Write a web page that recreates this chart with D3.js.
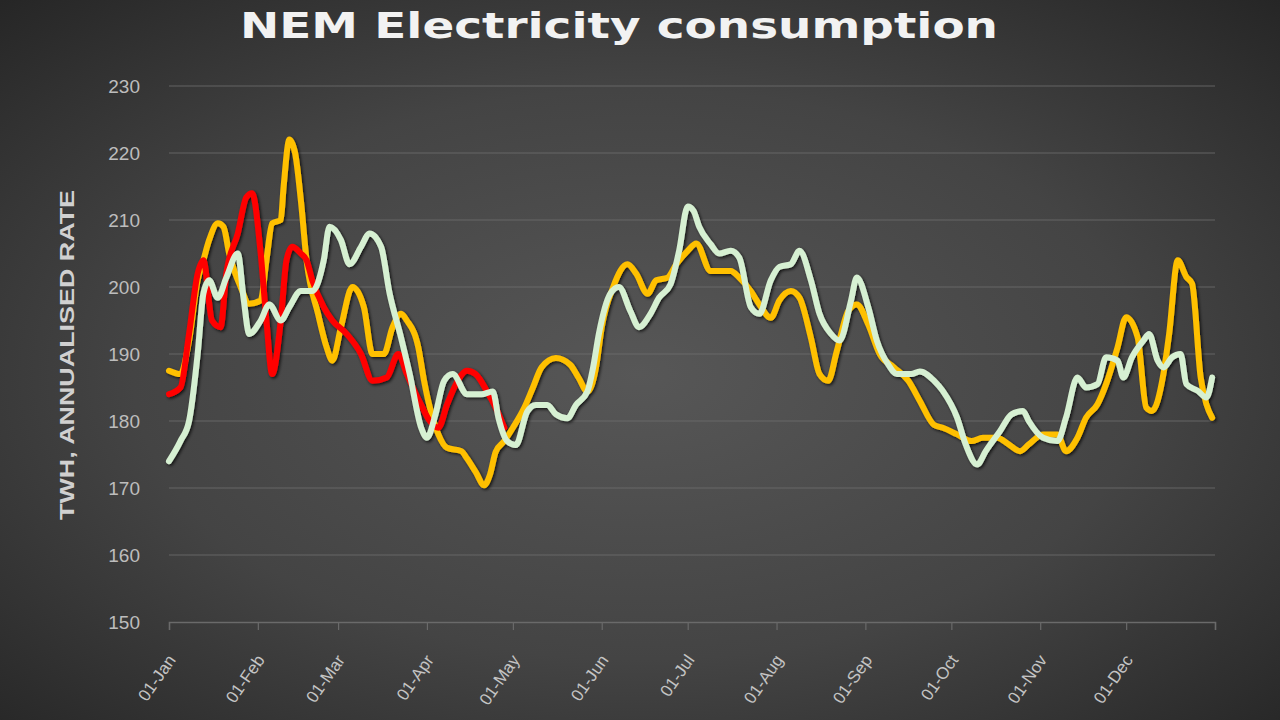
<!DOCTYPE html>
<html>
<head>
<meta charset="utf-8">
<script src="https://cdn.jsdelivr.net/npm/d3@7"></script>
<style>
  html, body { margin: 0; padding: 0; background: #2a2a2a; }
  svg { display: block; }
</style>
</head>
<body>
<svg id="chart" width="1280" height="720"></svg>
<script>
// ---- data (day offset from 01-Jan, value in TWh annualised) ----
const titleText = "NEM Electricity consumption";
const yAxisTitle = "TWH, ANNUALISED RATE";
const yTicks = [150, 160, 170, 180, 190, 200, 210, 220, 230];

const yellowDays = [0,4,7,10,12,14,17,19,21,25,28,32,34,36,39,40,42,44,46,48,52,55,57,60,64,68,71,75,78,81,83,87,89,94,97,102,104,107,110,112,114,117,120,124,127,130,135,140,143,146,149,151,155,160,163,167,170,174,177,181,184,189,192,196,199,203,206,210,213,217,220,224,227,230,233,237,240,244,248,253,258,262,267,270,275,280,284,289,293,297,300,305,310,313,317,320,324,327,331,334,338,341,343,347,349,352,355,357,360,362,364];
const yellowValues = [187.5,187,192,201,204,207,209.5,209,205,200,197.5,198,204,209.5,210,215,222,220,213,204,196,191,189,194,200,197,190,190,194,196,195,191,186,178,176,175.5,174.4,172.4,170.4,172,175.4,177,179,182,185,188,189.4,188.4,186.4,184.4,188,194,200,203.4,202,199,201,201.4,203.4,205.4,206.5,202.4,202.4,202.4,201.4,199.4,197.4,195.4,198,199.4,198.4,192.4,187,186,190.4,196.4,197.4,194.4,190,188,186,183,179.4,179,178,177,177.5,177.5,176.5,175.5,176.5,178,178,175.5,177.5,180.5,182.5,185.5,191,195.5,192.5,182,181.5,187,193,204,201.5,200.5,186.5,182.5,180.5];

const redDays = [0,4,7,10,12,15,18,20,24,27,29,32,34,36,39,41,43,46,48,50,54,57,62,67,71,76,80,83,88,91,94,97,100,104,107,111,114,117];
const redValues = [184,185,193,202,204,195,194,202,208,213.4,214,205,195,187,195,204,206,205,204,201,197,195,193,190,186,186.5,190,187,182.4,180,179,182.4,185.4,187.5,187,184.4,182,179];

const greenDays = [0,4,7,10,12,14,17,20,24,26,28,32,35,39,42,46,50,54,56,60,63,67,70,74,77,81,84,88,90,93,96,99,104,109,113,115,118,121,125,128,132,135,139,142,146,148,150,154,157,161,164,168,171,175,178,181,183,185,189,192,196,199,203,206,210,213,217,220,224,227,231,234,238,240,244,247,251,254,259,262,267,270,275,278,282,285,290,294,298,300,305,310,313,317,320,324,327,331,333,336,340,342,345,347,350,353,355,359,362,364];
const greenValues = [174,177,180,190,199,201,198.4,201.4,205,198.4,193,195,197.4,195,197,199.4,199.4,204,209,207,203.4,206,208,206,199,192.4,187,179,177.5,181,186,187,184,184,184.4,180.4,177,176.4,181.4,182.4,182.4,181,180.4,182.4,184.4,188,193,199,200,196.4,194,196,198.4,200.4,205.4,212,211.4,209,206.4,205,205.4,204.4,197,196,201,203,203.4,205.4,201,196,193,192,198,201.4,197,192,188.4,187,187,187.4,186,184.5,180.5,176.5,173.5,175.5,178.5,181,181.5,180,177.5,177,180.5,186.5,185,185.5,189.5,189,186.5,189.5,192,193,189,188,189.5,190,185.5,184.5,183.5,186.5];

// ---- layout ----
const W = 1280, H = 720;
const plot = { left: 169, right: 1215, top: 86, bottom: 622 };
const yearStart = new Date(2017, 0, 1);
const yearEnd = new Date(2018, 0, 1);
const dayToDate = d => d3.timeDay.offset(yearStart, d);

const svg = d3.select("#chart");
const defs = svg.append("defs");

const grad = defs.append("radialGradient")
  .attr("id", "bg").attr("cx", "50%").attr("cy", "52%").attr("r", "72%");
grad.append("stop").attr("offset", "0%").attr("stop-color", "#575757");
grad.append("stop").attr("offset", "55%").attr("stop-color", "#444444");
grad.append("stop").attr("offset", "100%").attr("stop-color", "#262626");

const shadow = defs.append("filter").attr("id", "shadow")
  .attr("x", "-5%").attr("y", "-5%").attr("width", "110%").attr("height", "110%");
shadow.append("feDropShadow").attr("dx", 1.5).attr("dy", 1.5)
  .attr("stdDeviation", 1.5).attr("flood-color", "#000").attr("flood-opacity", 0.75);

svg.append("rect").attr("width", W).attr("height", H).attr("fill", "url(#bg)");

const x = d3.scaleTime().domain([yearStart, yearEnd]).range([plot.left, plot.right]);
const y = d3.scaleLinear().domain([150, 230]).range([plot.bottom, plot.top]);

// gridlines
svg.append("g").selectAll("line").data(yTicks.filter(v => v !== 150)).join("line")
  .attr("x1", plot.left).attr("x2", plot.right)
  .attr("y1", d => y(d)).attr("y2", d => y(d))
  .attr("stroke", "#6e6e6e").attr("stroke-width", 1.2).attr("opacity", 0.8);

// y tick labels
svg.append("g").selectAll("text").data(yTicks).join("text")
  .attr("x", 140).attr("y", d => y(d)).attr("dy", "0.35em")
  .attr("text-anchor", "end")
  .attr("font-family", "Liberation Sans, Arial, sans-serif")
  .attr("font-size", 19).attr("fill", "#bdbdbd")
  .text(d => d);

// x axis
const tickVals = d3.timeMonth.range(yearStart, yearEnd).concat([yearEnd]);
const xAxis = d3.axisBottom(x).tickValues(tickVals).tickSize(8)
  .tickFormat(d => +d === +yearEnd ? "" : d3.timeFormat("%d-%b")(d));
const gx = svg.append("g").attr("transform", `translate(0,${plot.bottom})`).call(xAxis);
gx.select(".domain").attr("stroke", "#6a6a6a").attr("stroke-width", 1.5);
gx.selectAll(".tick line").attr("stroke", "#6a6a6a").attr("stroke-width", 1.2);
gx.selectAll(".tick text")
  .attr("x", 0).attr("y", 0).attr("dy", 0)
  .attr("text-anchor", "end")
  .attr("transform", "translate(7,38) rotate(-55)")
  .attr("font-family", "Liberation Sans, Arial, sans-serif")
  .attr("font-size", 17).attr("fill", "#c4c4c4");

// y axis title
svg.append("text")
  .attr("transform", "translate(74,355) rotate(-90)")
  .attr("text-anchor", "middle")
  .attr("font-family", "Liberation Sans, Arial, sans-serif")
  .attr("font-weight", "bold").attr("font-size", 21)
  .attr("fill", "#d0d0d0")
  .attr("textLength", 330).attr("lengthAdjust", "spacingAndGlyphs")
  .text(yAxisTitle);

// title
svg.append("text")
  .attr("x", 619).attr("y", 38)
  .attr("text-anchor", "middle")
  .attr("font-family", "DejaVu Sans, sans-serif")
  .attr("font-weight", "bold").attr("font-size", 36)
  .attr("fill", "#f2f2f2")
  .attr("textLength", 758).attr("lengthAdjust", "spacingAndGlyphs")
  .text(titleText);

// lines
const line = d3.line()
  .x(p => x(dayToDate(p[0])))
  .y(p => y(p[1]))
  .curve(d3.curveMonotoneX);

const series = [
  { days: yellowDays, values: yellowValues, color: "#ffc000" },
  { days: redDays, values: redValues, color: "#ff0000" },
  { days: greenDays, values: greenValues, color: "#d6f0d2" }
];

svg.append("g").attr("filter", "url(#shadow)")
  .selectAll("path").data(series).join("path")
  .attr("d", s => line(s.days.map((d, i) => [d, s.values[i]])))
  .attr("fill", "none")
  .attr("stroke", s => s.color)
  .attr("stroke-width", 6)
  .attr("stroke-linejoin", "round")
  .attr("stroke-linecap", "round");
</script>
</body>
</html>
